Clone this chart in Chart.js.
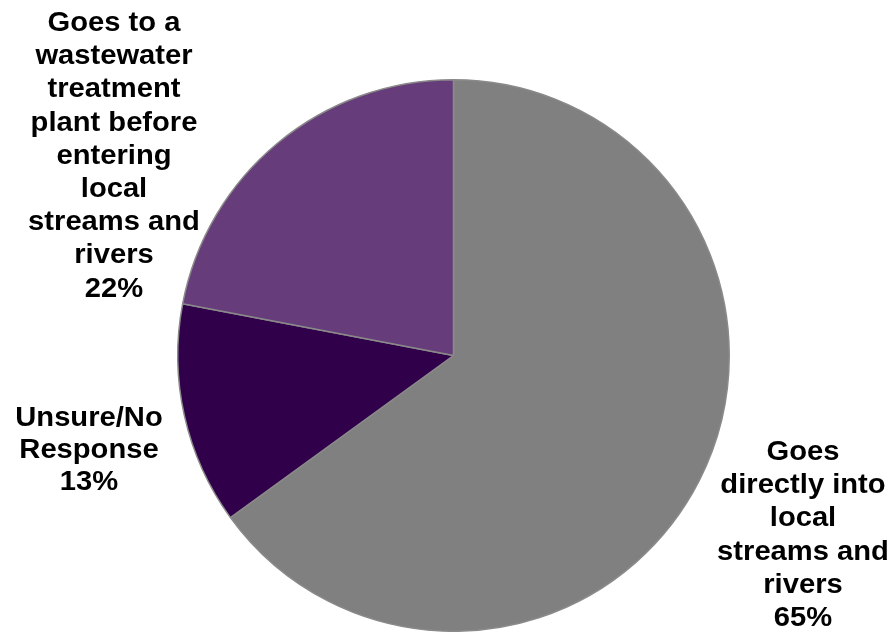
<!DOCTYPE html>
<html>
<head>
<meta charset="utf-8">
<style>
  html, body { margin: 0; padding: 0; background: #ffffff; }
  #wrap { width: 894px; height: 632px; position: relative; }
</style>
<script src="https://cdn.jsdelivr.net/npm/chart.js@4.4.1/dist/chart.umd.min.js"></script>
</head>
<body>
<div id="wrap"><canvas id="c" width="894" height="632"></canvas></div>
<script>
// Where stormwater goes: survey responses (percent)
const categories = [
  ['Goes', 'directly into', 'local', 'streams and', 'rivers'],
  ['Unsure/No', 'Response'],
  ['Goes to a', 'wastewater', 'treatment', 'plant before', 'entering', 'local', 'streams and', 'rivers']
];
const values = [65, 13, 22];
const colors = ['#808080', '#31004A', '#663C7A'];

// Label anchor for each slice: centre x and first baseline y (canvas px)
const labelAnchors = [
  { x: 803, y: 460 },
  { x: 89,  y: 426 },
  { x: 114, y: 31 }
];

const outsideLabels = {
  id: 'outsideLabels',
  afterDraw(chart) {
    const ctx = chart.ctx;
    const data = chart.data.datasets[0].data;
    const lh = 33.2;
    const stretch = 1.08;
    chart.data.labels.forEach((lines, i) => {
      const a = labelAnchors[i];
      const all = lines.concat([data[i] + '%']);
      all.forEach((t, k) => {
        ctx.save();
        ctx.fillStyle = '#000000';
        ctx.font = 'bold 27px "Liberation Sans", Arial, sans-serif';
        ctx.textAlign = 'center';
        ctx.textBaseline = 'alphabetic';
        ctx.translate(a.x, a.y + k * (i === 1 ? 31.8 : lh));
        ctx.scale(stretch, 1);
        ctx.fillText(t, 0, 0);
        ctx.restore();
      });
    });
  }
};

new Chart(document.getElementById('c'), {
  type: 'pie',
  data: {
    labels: categories,
    datasets: [{
      data: values,
      backgroundColor: colors,
      borderColor: '#8a8a8a',
      borderWidth: 1.5
    }]
  },
  options: {
    responsive: false,
    animation: false,
    layout: { padding: { left: 177, right: 164, top: 79, bottom: 0 } },
    plugins: {
      legend: { display: false },
      tooltip: { enabled: false }
    }
  },
  plugins: [outsideLabels]
});
</script>
</body>
</html>
